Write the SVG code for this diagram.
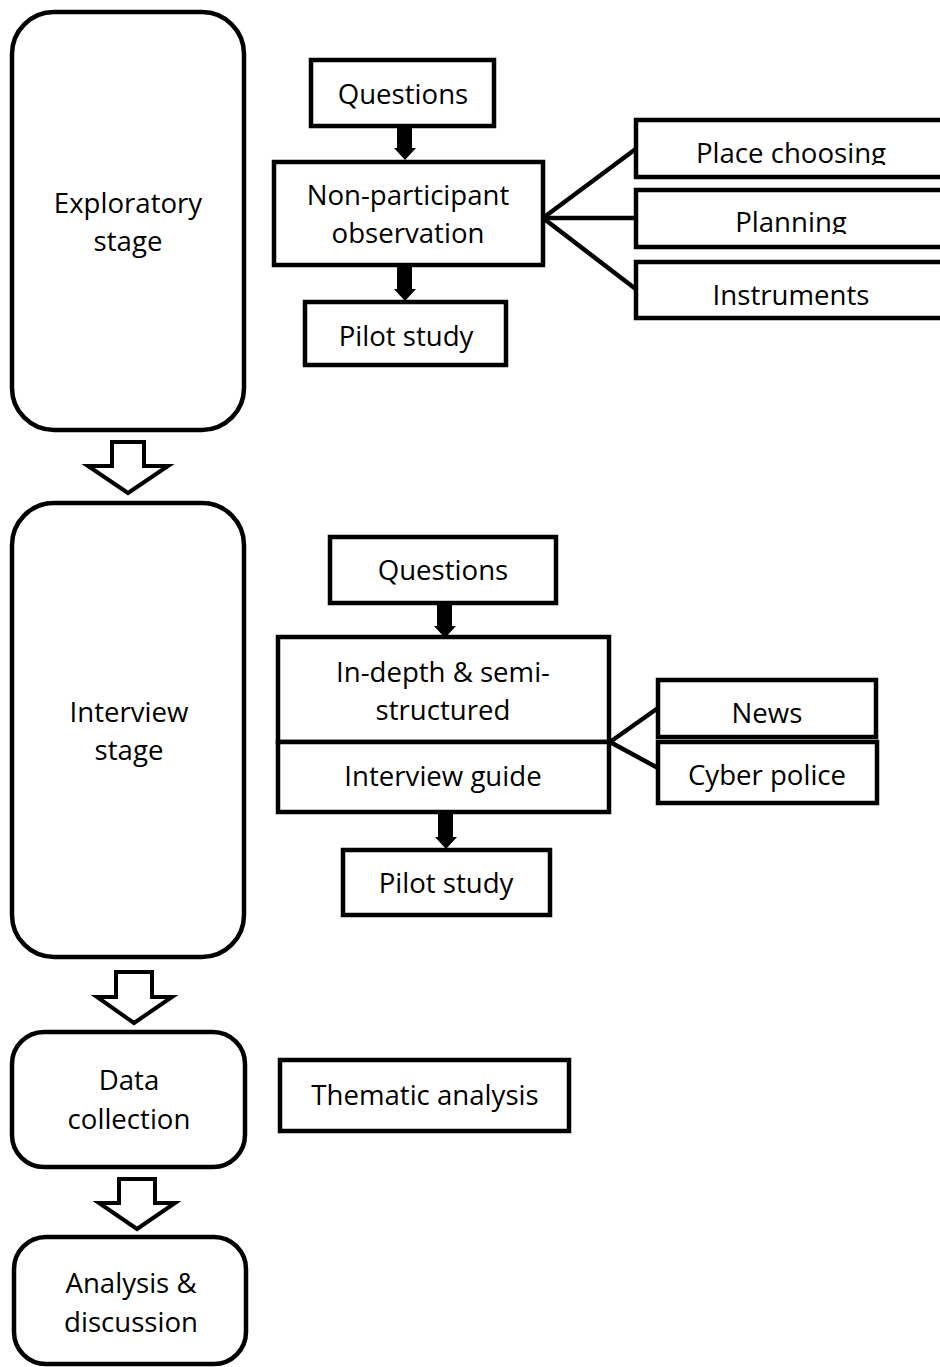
<svg xmlns="http://www.w3.org/2000/svg" width="940" height="1367" viewBox="0 0 940 1367">
<style>
.box{fill:#fff;stroke:#000;stroke-width:4.5}
.rbox{fill:#fff;stroke:#000;stroke-width:4.5}
.t{font-family:"Open Sans","Noto Sans",sans-serif;font-size:27.6px;fill:#000;text-anchor:middle}
.ln{stroke:#000;stroke-width:4.5;fill:none}
.harrow{fill:#fff;stroke:#000;stroke-width:4;stroke-linejoin:miter}
.farrow{fill:#000;stroke:none}
</style>
<defs>
<clipPath id="clipPlace"><rect x="636" y="120" width="310" height="45"/></clipPath>
<clipPath id="clipPlan"><rect x="636" y="190" width="310" height="44"/></clipPath>
</defs>
<rect width="940" height="1367" fill="#fff"/>

<g id="connectors">
<line class="ln" x1="543" y1="218" x2="637" y2="148"/>
<line class="ln" x1="543" y1="218" x2="637" y2="218"/>
<line class="ln" x1="543" y1="218" x2="637" y2="290"/>
<line class="ln" x1="610" y1="742" x2="658" y2="708"/>
<line class="ln" x1="610" y1="742" x2="658" y2="768"/>
<polygon class="farrow" points="397,126 412,126 412,148 416,148 405,160 394,148 397,148"/>
<polygon class="farrow" points="397,265 412,265 412,289 416,289 405,301 394,289 397,289"/>
<polygon class="farrow" points="437,603 452,603 452,626 456,626 445,638 434,626 437,626"/>
<polygon class="farrow" points="438,812 453,812 453,837 457,837 446,849 435,837 438,837"/>
<polygon class="harrow" points="112,442 144,442 144,466 168,466 128,493 88,466 112,466"/>
<polygon class="harrow" points="116,972 152,972 152,997 172,997 134,1023 97,997 116,997"/>
<polygon class="harrow" points="119,1179 155,1179 155,1203 175,1203 137,1229 99,1203 119,1203"/>
</g>

<g id="exploratory">
<rect class="rbox" x="12" y="12" width="232" height="418" rx="42" ry="42"/>
<text class="t" x="128" y="213">Exploratory</text>
<text class="t" x="128" y="251">stage</text>
</g>

<g id="questions1">
<rect class="box" x="311" y="60" width="183" height="66"/>
<text class="t" x="403" y="104">Questions</text>
</g>

<g id="nonparticipant">
<rect class="box" x="274" y="162" width="269" height="103"/>
<text class="t" x="408" y="205">Non-participant</text>
<text class="t" x="408" y="243">observation</text>
</g>

<g id="pilot1">
<rect class="box" x="305" y="302" width="201" height="63"/>
<text class="t" x="406" y="346">Pilot study</text>
</g>

<g id="place">
<rect class="box" x="636" y="120" width="310" height="57"/>
<text class="t" x="791" y="163" clip-path="url(#clipPlace)">Place choosing</text>
</g>

<g id="planning">
<rect class="box" x="636" y="190" width="310" height="57"/>
<text class="t" x="791" y="232" clip-path="url(#clipPlan)">Planning</text>
</g>

<g id="instruments">
<rect class="box" x="636" y="262" width="310" height="56"/>
<text class="t" x="791" y="305">Instruments</text>
</g>

<g id="interview">
<rect class="rbox" x="12" y="503" width="232" height="454" rx="42" ry="42"/>
<text class="t" x="129" y="722">Interview</text>
<text class="t" x="129" y="760">stage</text>
</g>

<g id="questions2">
<rect class="box" x="330" y="537" width="226" height="66"/>
<text class="t" x="443" y="580">Questions</text>
</g>

<g id="indepth">
<rect class="box" x="278" y="637" width="331" height="105"/>
<text class="t" x="443" y="682">In-depth &amp; semi-</text>
<text class="t" x="443" y="720">structured</text>
</g>

<g id="guide">
<rect class="box" x="278" y="742" width="331" height="70"/>
<text class="t" x="443" y="786">Interview guide</text>
</g>

<g id="news">
<rect class="box" x="658" y="680" width="218" height="57"/>
<text class="t" x="767" y="723">News</text>
</g>

<g id="cyber">
<rect class="box" x="658" y="742" width="219" height="61"/>
<text class="t" x="767" y="785">Cyber police</text>
</g>

<g id="pilot2">
<rect class="box" x="343" y="850" width="207" height="65"/>
<text class="t" x="446" y="893">Pilot study</text>
</g>

<g id="datacollection">
<rect class="rbox" x="12" y="1032" width="233" height="135" rx="32" ry="32"/>
<text class="t" x="129" y="1090">Data</text>
<text class="t" x="129" y="1129">collection</text>
</g>

<g id="thematic">
<rect class="box" x="280" y="1060" width="289" height="71"/>
<text class="t" x="425" y="1105">Thematic analysis</text>
</g>

<g id="analysis">
<rect class="rbox" x="14" y="1237" width="232" height="127" rx="32" ry="32"/>
<text class="t" x="131" y="1293">Analysis &amp;</text>
<text class="t" x="131" y="1332">discussion</text>
</g>
</svg>
